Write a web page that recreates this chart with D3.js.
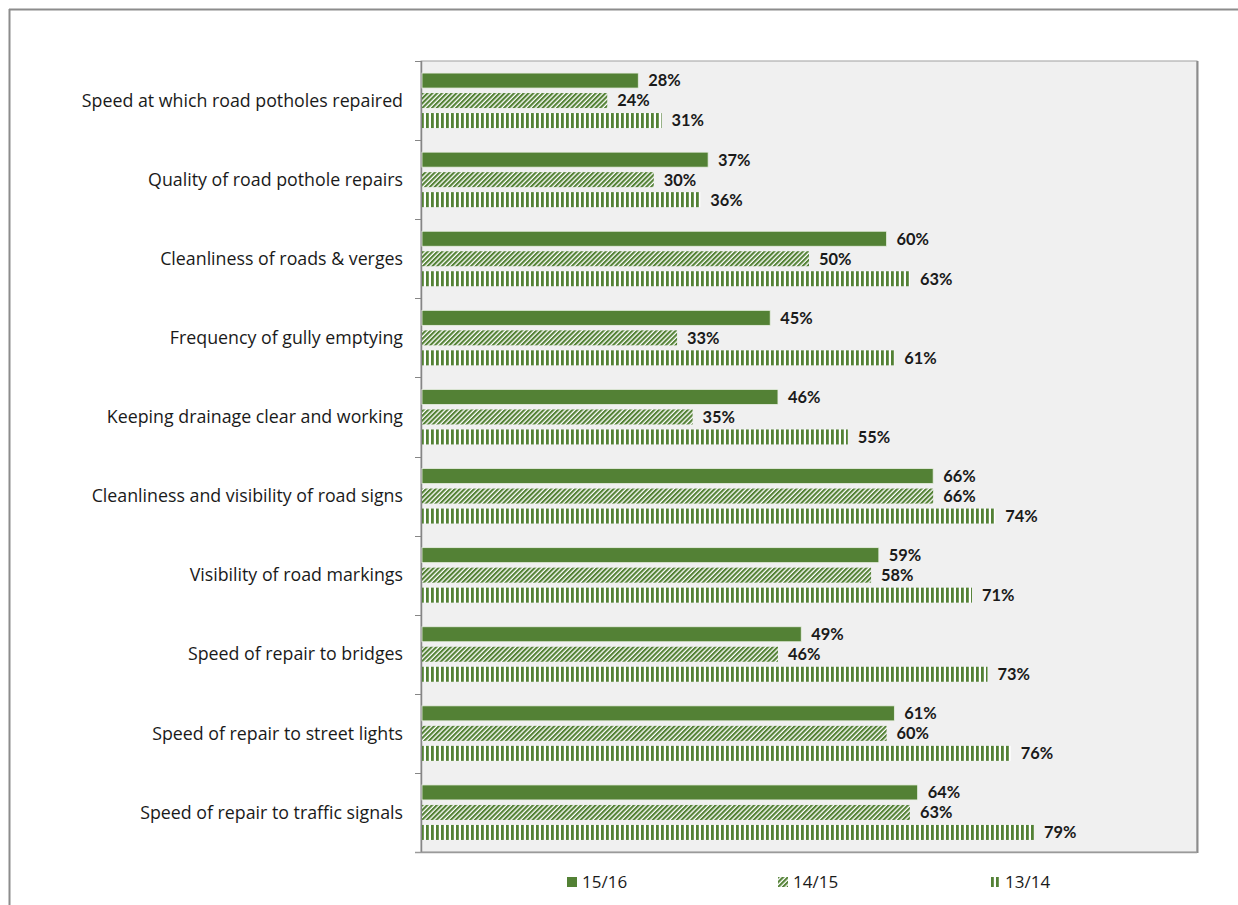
<!DOCTYPE html>
<html>
<head>
<meta charset="utf-8">
<script src="https://cdn.jsdelivr.net/npm/d3@7/dist/d3.min.js"></script>
<style>
  html, body { margin: 0; padding: 0; background: #fff; }
  svg { display: block; }
  text { font-family: "Open Sans", Lato, "Liberation Sans", sans-serif; }
  text.val { font-family: Lato, "Open Sans", sans-serif; }
</style>
</head>
<body>
<svg id="chart" width="1238" height="905"></svg>
<script>
// Satisfaction with highway services, three survey years
const categories = [
  "Speed at which road potholes repaired",
  "Quality of road pothole repairs",
  "Cleanliness of roads & verges",
  "Frequency of gully emptying",
  "Keeping drainage clear and working",
  "Cleanliness and visibility of road signs",
  "Visibility of road markings",
  "Speed of repair to bridges",
  "Speed of repair to street lights",
  "Speed of repair to traffic signals"
];
const seriesNames = ["15/16", "14/15", "13/14"];
const values1516 = [28, 37, 60, 45, 46, 66, 59, 49, 61, 64];
const values1415 = [24, 30, 50, 33, 35, 66, 58, 46, 60, 63];
const values1314 = [31, 36, 63, 61, 55, 74, 71, 73, 76, 79];
const xDomain = [0, 100];

const seriesValues = [values1516, values1415, values1314];
const green = "#538135";

const svg = d3.select("#chart");

// outer chart frame
svg.append("line").attr("x1", 9).attr("x2", 1238).attr("y1", 9.5).attr("y2", 9.5)
  .attr("stroke", "#8c8c8c").attr("stroke-width", 2);
svg.append("line").attr("x1", 9.5).attr("x2", 9.5).attr("y1", 9).attr("y2", 905)
  .attr("stroke", "#8c8c8c").attr("stroke-width", 2);

// fill patterns
const defs = svg.append("defs");
const diag = defs.append("pattern").attr("id", "diag")
  .attr("patternUnits", "userSpaceOnUse").attr("width", 3.4).attr("height", 3.4)
  .attr("patternTransform", "rotate(45)");
diag.append("rect").attr("width", 3.4).attr("height", 3.4).attr("fill", "#ffffff");
diag.append("rect").attr("width", 2.1).attr("height", 3.4).attr("fill", green);

const vert = defs.append("pattern").attr("id", "vert")
  .attr("patternUnits", "userSpaceOnUse").attr("width", 5).attr("height", 5);
vert.append("rect").attr("width", 5).attr("height", 5).attr("fill", "#ffffff");
vert.append("rect").attr("x", 1).attr("width", 2.8).attr("height", 5).attr("fill", green);

const fills = [green, "url(#diag)", "url(#vert)"];

const plot = { left: 421, top: 61, right: 1197, bottom: 852 };

const x = d3.scaleLinear().domain(xDomain).range([plot.left, plot.right]);
const y = d3.scaleBand().domain(categories).range([plot.top, plot.bottom]);
const inner = d3.scaleBand().domain(seriesNames)
  .range([y.bandwidth() / 2 - 30, y.bandwidth() / 2 + 30])
  .paddingInner(0.25).paddingOuter(0.125);

// plot area
svg.append("rect")
  .attr("x", plot.left).attr("y", plot.top)
  .attr("width", plot.right - plot.left).attr("height", plot.bottom - plot.top)
  .attr("fill", "#f0f0f0").attr("stroke", "#a0a0a0").attr("stroke-width", 1);
svg.append("line")
  .attr("x1", plot.right + 0.5).attr("x2", plot.right + 0.5)
  .attr("y1", plot.top).attr("y2", plot.bottom + 1)
  .attr("stroke", "#8c8c8c").attr("stroke-width", 2);

// category axis with ticks at band boundaries
const axisG = svg.append("g");
const boundaries = categories.map(c => y(c)).concat([plot.bottom]);
axisG.selectAll("line.tick").data(boundaries).join("line")
  .attr("x1", plot.left - 6).attr("x2", plot.left)
  .attr("y1", d => Math.round(d) + 0.5).attr("y2", d => Math.round(d) + 0.5)
  .attr("stroke", "#868686").attr("stroke-width", 1);
axisG.append("line")
  .attr("x1", plot.left + 0.5).attr("x2", plot.left + 0.5)
  .attr("y1", plot.top).attr("y2", plot.bottom)
  .attr("stroke", "#868686").attr("stroke-width", 1.5);
axisG.append("line")
  .attr("x1", plot.left - 6).attr("x2", plot.right)
  .attr("y1", plot.bottom + 0.5).attr("y2", plot.bottom + 0.5)
  .attr("stroke", "#9a9a9a").attr("stroke-width", 1.5);

axisG.selectAll("text.cat").data(categories).join("text")
  .attr("class", "cat")
  .attr("x", 403)
  .attr("y", d => y(d) + y.bandwidth() / 2)
  .attr("dy", "0.35em")
  .attr("text-anchor", "end")
  .attr("font-size", 17.8)
  .attr("fill", "#1a1a1a")
  .text(d => d);

// bars and value labels
seriesNames.forEach((name, si) => {
  const vals = seriesValues[si];
  const g = svg.append("g");
  g.selectAll("rect").data(categories).join("rect")
    .attr("x", x(0) + 1)
    .attr("y", (c) => y(c) + inner(name))
    .attr("width", (c, i) => x(vals[i]) - x(0) - 1)
    .attr("height", inner.bandwidth())
    .attr("fill", fills[si])
    .attr("stroke", si === 0 ? "#e8efe2" : "none")
    .attr("stroke-width", 0.8);
  g.selectAll("text").data(categories).join("text")
    .attr("class", "val")
    .attr("x", (c, i) => x(vals[i]) + 10)
    .attr("y", (c) => y(c) + inner(name) + inner.bandwidth() / 2)
    .attr("dy", "0.36em")
    .attr("font-size", 16.4)
    .attr("font-weight", "bold")
    .attr("fill", "#1a1a1a")
    .text((c, i) => vals[i] + "%");
});

// legend
const legendX = [567, 778, 990];
const legend = svg.append("g");
seriesNames.forEach((name, i) => {
  legend.append("rect")
    .attr("x", legendX[i]).attr("y", 877)
    .attr("width", 10).attr("height", 10)
    .attr("fill", fills[i]);
  legend.append("text")
    .attr("x", legendX[i] + 15).attr("y", 882)
    .attr("dy", "0.36em")
    .attr("font-size", 17)
    .attr("fill", "#1a1a1a")
    .text(name);
});
</script>
</body>
</html>
